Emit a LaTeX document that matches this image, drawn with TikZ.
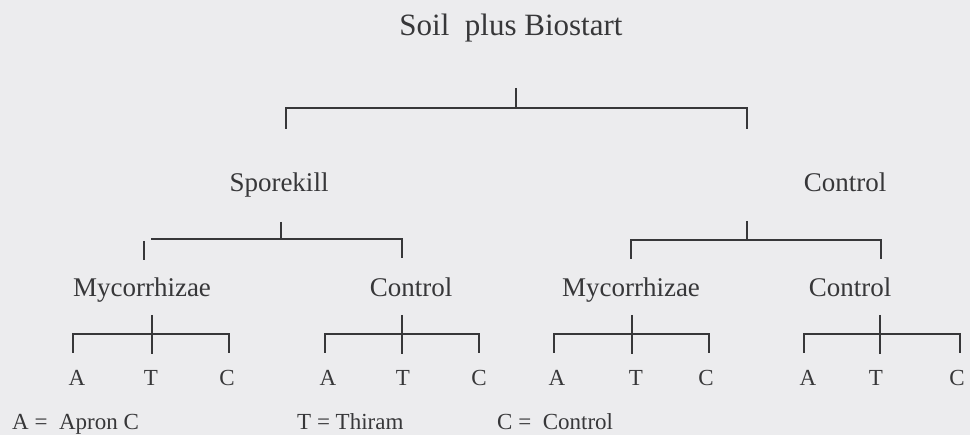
\documentclass[tikz,border=0pt]{standalone}
\usepackage{fontspec}
\setmainfont{Liberation Serif}
\usepackage{tikz}
\usetikzlibrary{positioning}
\definecolor{paper}{RGB}{236,236,238}
\definecolor{ink}{RGB}{55,55,57}
% fork: left x, tick x, right x, bar y, tick top y, tick bottom y, leg bottom y
\newcommand{\fork}[7]{%
  \draw[bar] (#1,#7) |- (#3,#4) -- (#3,#7);
  \draw[bar] (#2,#5) -- (#2,#6);}

\begin{document}
\begin{tikzpicture}[x=1pt, y=-1pt,
  lab/.style={anchor=base, text=ink, inner sep=0pt},
  rootlab/.style={lab, font=\fontsize{31}{36}\selectfont},
  midlab/.style={lab, font=\fontsize{27}{32}\selectfont},
  leaf/.style={lab, font=\fontsize{23}{27}\selectfont},
  key/.style={lab, anchor=base west, font=\fontsize{23}{27}\selectfont},
  bar/.style={draw=ink, line width=1.5pt}]
\fill[paper] (0,0) rectangle (970,435);
\useasboundingbox (0,0) rectangle (970,435);

% labels
\node[rootlab] (soil) at (511,36) {Soil~ plus Biostart};
\node[midlab] (spk) at (279,192) {Sporekill};
\node[midlab] (ctl) at (845,192) {Control};
\node[midlab] (spkmyc) at (142,297) {Mycorrhizae};
\node[midlab] (spkctl) at (411,297) {Control};
\node[midlab] (ctlmyc) at (631,297) {Mycorrhizae};
\node[midlab] (ctlctl) at (850,297) {Control};
\foreach \g/\a/\t/\c in {1/77/151/227, 2/328/403/479, 3/557/636/706, 4/808/876/957} {
  \node[leaf] (a\g) at (\a,386) {A};
  \node[leaf] (t\g) at (\t,386) {T};
  \node[leaf] (c\g) at (\c,386) {C};
}
\node[key] (ka) at (12,430) {A =~ Apron C};
\node[key] (kt) at (297,430) {T = Thiram};
\node[key] (kc) at (497,430) {C =~ Control};

% brackets
\fork{286}{516}{747}{108}{88}{108}{129}
\draw[bar] (151,239) -- (402,239) -- (402,258);
\draw[bar] (144,241) -- (144,260);
\draw[bar] (281,222) -- (281,239);
\fork{631}{747}{881}{240}{221}{240}{259}
\foreach \l/\m/\r in {73/152/229, 325/402/479, 554/632/709, 804/880/960} {
  \fork{\l}{\m}{\r}{334}{315}{354}{353}
}
\end{tikzpicture}
\end{document}
